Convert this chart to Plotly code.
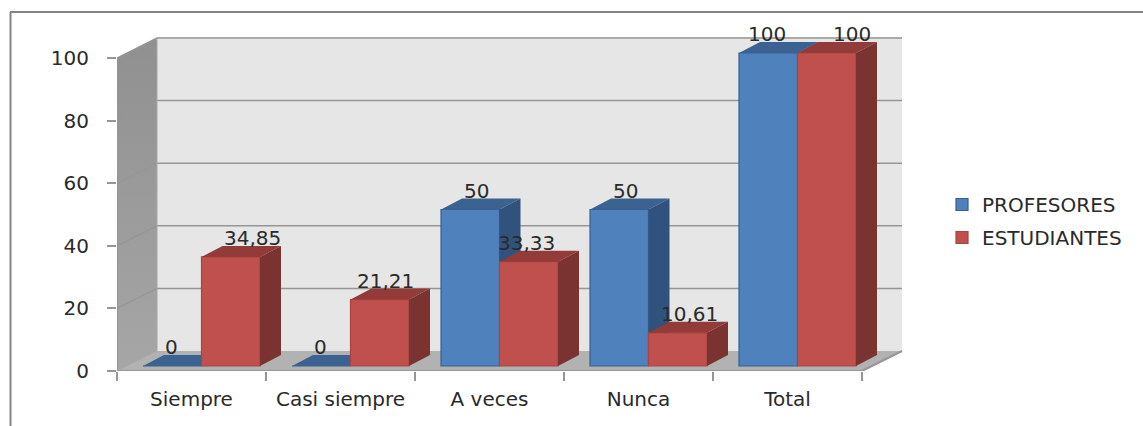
import plotly.graph_objects as go

categories = ["Siempre", "Casi siempre", "A veces", "Nunca", "Total"]
profesores = [0, 0, 50, 50, 100]
estudiantes = [34.85, 21.21, 33.33, 10.61, 100]
profesores_text = ["0", "0", "50", "50", "100"]
estudiantes_text = ["34,85", "21,21", "33,33", "10,61", "100"]
y_ticks = [0, 20, 40, 60, 80, 100]

# --- layout constants (pixels) ---
W, H = 1143, 426
L, R_PX, T, B_PX = 117, 903, 37, 371
PX_CAT = 149.0
PX_VAL = 3.13
FONT = "DejaVu Sans"
FS = 20
INK = "#2a2a2a"
GRID = "#969696"

X_MAX = (R_PX - L) / PX_CAT
Y_MAX = (B_PX - T) / PX_VAL
DX, DY = 40 / PX_CAT, 20 / PX_VAL            # full floor depth
FX, FY = 10 / PX_CAT, 5 / PX_VAL             # bar front offset into the floor
BX, BY = 21 / PX_CAT, 11 / PX_VAL            # bar depth
BW = 58.5 / PX_CAT
GAP = (1 - 2 * BW) / 2
N = len(categories)

fig = go.Figure()
skip = dict(hoverinfo="skip", showlegend=False, cliponaxis=False)


def poly(xs, ys, color, axes=("x", "y"), line=None, **kw):
    fig.add_trace(go.Scatter(
        x=xs + xs[:1], y=ys + ys[:1], mode="lines", fill="toself", fillcolor=color,
        line=dict(width=line[1], color=line[0]) if line else dict(width=0),
        xaxis=axes[0], yaxis=axes[1], **skip, **kw))


# walls and floor
poly([DX, N + DX, N + DX, DX], [DY, DY, Y_MAX, Y_MAX], "#e6e6e6")
poly([0, DX, DX, 0], [0, DY, 100 + DY, 100], "#9a9a9a",
     fillgradient=dict(type="vertical",
                       colorscale=[[0, "#a6a6a6"], [1, "#909090"]]))
poly([0, N, N + DX, DX], [0, 0, DY, DY], "#b2b2b2")

# grid
gx, gy = [], []
for v in y_ticks[1:]:
    gx += [0, DX, N + DX, None]
    gy += [v, v + DY, v + DY, None]
fig.add_trace(go.Scatter(x=gx, y=gy, mode="lines",
                         line=dict(color=GRID, width=1.5), **skip))
fig.add_trace(go.Scatter(x=[0, DX, DX], y=[0, DY, 100 + DY], mode="lines",
                         line=dict(color="#a6a6a6", width=1), **skip))
fig.add_trace(go.Scatter(x=[0, 0, None, 0, N, None, N, N + DX],
                         y=[100, 0, None, 0, 0, None, 0, DY], mode="lines",
                         line=dict(color=GRID, width=2), **skip))

# bars
series = [
    ("PROFESORES", profesores, 0, "#4f81bd", "#376092", "#3b6291", "#31527c", "x2", "y2"),
    ("ESTUDIANTES", estudiantes, 1, "#c0504d", "#a84441", "#933b38", "#7b3331", "x3", "y3"),
]
for name, vals, k, front, edge, top, side, xa, ya in series:
    lefts = [i + FX + GAP + k * BW for i in range(N)]
    fig.add_trace(go.Bar(
        x=[l + BW / 2 for l in lefts], y=vals, base=[FY] * N, width=[BW] * N, name=name,
        marker=dict(color=front, line=dict(color=edge, width=1.2)),
        xaxis=xa, yaxis=ya, legendgroup=name, hoverinfo="skip"))
    for l, v in zip(lefts, vals):
        r = l + BW
        t = v + FY
        poly([l, r, r + BX, l + BX], [t, t, t + BY, t + BY], top, axes=(xa, ya))
        if v > 0:
            poly([r, r + BX, r + BX, r], [FY, FY + BY, t + BY, t], side, axes=(xa, ya))

# data labels
blue_shift = [-1, -1, 6, 6, -1]
red_shift = [22, 6, -2, 12, 25]
ann = []
for vals, texts, k, shifts in [(profesores, profesores_text, 0, blue_shift),
                               (estudiantes, estudiantes_text, 1, red_shift)]:
    for i, (v, s, sh) in enumerate(zip(vals, texts, shifts)):
        ann.append(dict(x=i + FX + GAP + (k + 0.5) * BW, y=v + FY, xref="x", yref="y",
                        text=s, showarrow=False, xanchor="center", yanchor="middle",
                        xshift=sh, yshift=19, font=dict(family=FONT, size=FS, color=INK)))

axis_common = dict(showgrid=False, zeroline=False, showline=False)
fig.update_layout(
    width=W, height=H, autosize=False,
    margin=dict(l=L, r=W - R_PX, t=T, b=H - B_PX, pad=0, autoexpand=False),
    paper_bgcolor="white", plot_bgcolor="rgba(0,0,0,0)",
    font=dict(family=FONT, size=FS, color=INK),
    annotations=ann,
    legend=dict(x=(942 - L) / (R_PX - L), y=(B_PX - 185) / (B_PX - T),
                xanchor="left", yanchor="top", traceorder="grouped", tracegroupgap=4,
                font=dict(family=FONT, size=FS, color=INK), bgcolor="rgba(0,0,0,0)"),
    xaxis=dict(range=[0, X_MAX], tickmode="array", tickvals=list(range(N + 1)),
               ticktext=[""] * (N + 1), ticks="outside", ticklen=9, tickwidth=2,
               tickcolor=GRID, **axis_common),
    yaxis=dict(range=[0, Y_MAX], tickmode="array", tickvals=y_ticks,
               ticktext=[str(v) for v in y_ticks], ticks="outside", ticklen=9, tickwidth=2,
               tickcolor=GRID, ticklabelstandoff=14, **axis_common),
    xaxis2=dict(range=[0, X_MAX], overlaying="x", anchor="y2", tickmode="array",
                tickvals=[i + 0.5 for i in range(N)], ticktext=categories, ticks="",
                ticklabelstandoff=14, **axis_common),
    yaxis2=dict(range=[0, Y_MAX], overlaying="y", anchor="x2", showticklabels=False, **axis_common),
    xaxis3=dict(range=[0, X_MAX], overlaying="x", anchor="y3", showticklabels=False, **axis_common),
    yaxis3=dict(range=[0, Y_MAX], overlaying="y", anchor="x3", showticklabels=False, **axis_common),
    shapes=[
        dict(type="line", xref="paper", yref="paper", layer="below",
             x0=(10.5 - L) / (R_PX - L), x1=(10.5 - L) / (R_PX - L),
             y0=(B_PX - 12) / (B_PX - T), y1=(B_PX - H) / (B_PX - T),
             line=dict(color="#858585", width=2)),
        dict(type="line", xref="paper", yref="paper", layer="below",
             x0=(10 - L) / (R_PX - L), x1=(W - L) / (R_PX - L),
             y0=(B_PX - 12) / (B_PX - T), y1=(B_PX - 12) / (B_PX - T),
             line=dict(color="#858585", width=2)),
    ],
)

fig.write_html("out.html", config=dict(displayModeBar=False),
               post_script="document.body.style.margin='0';")
